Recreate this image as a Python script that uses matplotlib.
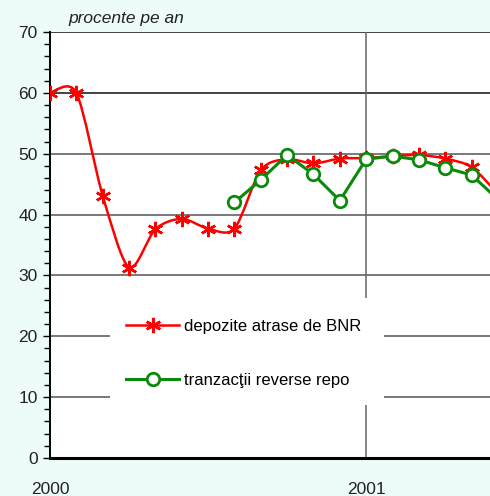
import matplotlib
matplotlib.use("Agg")
import matplotlib.pyplot as plt
import numpy as np
from matplotlib.path import Path
from matplotlib.patches import PathPatch, Rectangle
from matplotlib.lines import Line2D
from matplotlib.ticker import MultipleLocator

plt.rcParams['font.family'] = ['Liberation Sans', 'DejaVu Sans']

# months since Jan 2000
months_red = [0, 1, 2, 3, 4, 5, 6, 7, 8, 9, 10, 11, 12, 13, 14, 15, 16, 17]
depozite = [60.0, 60.0, 43.1, 31.3, 37.6, 39.3, 37.7, 37.7, 47.3, 49.1,
            48.4, 49.2, 49.3, 49.6, 49.8, 49.2, 47.8, 43.4]
months_green = [7, 8, 9, 10, 11, 12, 13, 14, 15, 16, 17]
reverse_repo = [42.0, 45.7, 49.8, 46.6, 42.3, 49.1, 49.6, 49.0, 47.7, 46.5, 42.5]

year_ticks = [0, 12]
year_labels = ["2000", "2001"]

RED = "#ff0000"
GREEN = "#0a8a0a"
BG = "#eefcf9"


def smooth_path(xs, ys, k=7.0):
    """Cardinal-spline style bezier path through the points."""
    pts = np.column_stack([xs, ys]).astype(float)
    verts = [pts[0]]
    codes = [Path.MOVETO]
    n = len(pts)
    for i in range(n - 1):
        p0 = pts[i - 1] if i > 0 else pts[i]
        p1 = pts[i]
        p2 = pts[i + 1]
        p3 = pts[i + 2] if i + 2 < n else pts[i + 1]
        c1 = p1 + (p2 - p0) / k
        c2 = p2 - (p3 - p1) / k
        verts += [c1, c2, p2]
        codes += [Path.CURVE4] * 3
    return Path(verts, codes)


fig = plt.figure(figsize=(4.9, 4.96), dpi=100, facecolor=BG)
ax = fig.add_axes([50 / 490, 1 - 458 / 496, 1 - 50 / 490, (458 - 32) / 496])
ax.set_facecolor("white")

ax.set_xlim(0, 16.7)
ax.set_ylim(0, 70)

# grid
for v in range(10, 71, 10):
    ax.axhline(v, color="#555555" if v < 60 else "#111111", lw=1.1, zorder=1)
ax.axvline(12, color="#666666", lw=1.1, zorder=1)

# white legend area covering grid
ax.add_patch(Rectangle((60 / 440, 53 / 426), 274 / 440, 107 / 426,
                       transform=ax.transAxes, facecolor="white",
                       edgecolor="none", zorder=2))

# red series (smooth)
ax.add_patch(PathPatch(smooth_path(months_red, depozite), facecolor="none",
                       edgecolor=RED, lw=1.8, zorder=3))
ax.plot(months_red, depozite, ls="none", marker=(6, 2, 0), ms=11,
        mec=RED, mew=1.8, zorder=4)

# green series
ax.plot(months_green, reverse_repo, color=GREEN, lw=2.2, marker="o", ms=9,
        mfc="white", mec=GREEN, mew=2, zorder=5)

# axes styling
for s in ["top", "right"]:
    ax.spines[s].set_visible(False)
ax.spines["bottom"].set_linewidth(2.2)
ax.spines["left"].set_linewidth(1.4)
ax.yaxis.set_major_locator(MultipleLocator(10))
ax.yaxis.set_minor_locator(MultipleLocator(2))
ax.tick_params(axis="y", which="major", length=5, width=1, pad=4,
               labelsize=12.5, labelcolor="#222222")
ax.tick_params(axis="y", which="minor", length=4, width=1)
ax.set_xticks(year_ticks)
ax.set_xticklabels(year_labels)
ax.tick_params(axis="x", length=0, pad=17, labelsize=12.5, labelcolor="#222222")

fig.text(68 / 490, 1 - 18 / 496, "procente pe an", style="italic",
         fontsize=12.5, color="#222222", va="center")

handles = [
    Line2D([], [], color=RED, lw=1.8, marker=(6, 2, 0), ms=11, mew=1.8),
    Line2D([], [], color=GREEN, lw=2.2, marker="o", ms=9, mfc="white",
           mec=GREEN, mew=2),
]
ax.legend(handles, ["depozite atrase de BNR", "tranzacţii reverse repo"],
          loc="center left", bbox_to_anchor=(76 / 440, 0.246),
          frameon=False, fontsize=12, handlelength=3.2, handletextpad=0.3,
          labelspacing=2.35, borderpad=0, borderaxespad=0)

fig.savefig("out.png", dpi=100, facecolor=BG)
